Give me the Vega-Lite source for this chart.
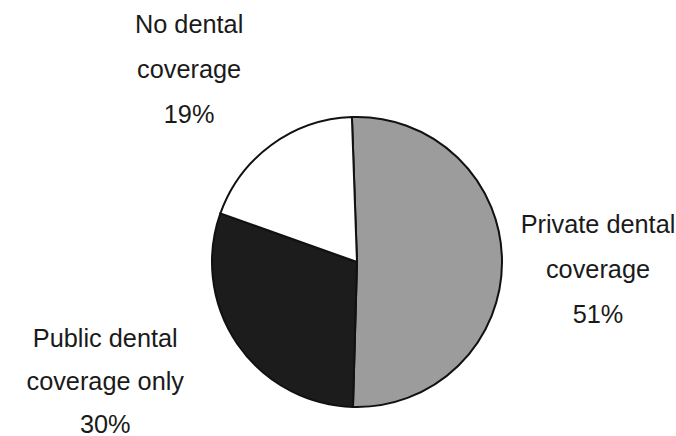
{
  "$schema": "https://vega.github.io/schema/vega-lite/v6.json",
  "width": 640,
  "height": 346,
  "autosize": {"type": "none"},
  "padding": {"left": 37, "top": 89, "right": 0, "bottom": 0},
  "background": "white",
  "config": {"view": {"stroke": null}},
  "data": {
    "values": [
      {"category": "Private dental coverage", "value": 51, "rank": 1, "label": "Private dental\ncoverage\n51%"},
      {"category": "Public dental coverage only", "value": 30, "rank": 2, "label": "Public dental\ncoverage only\n30%"},
      {"category": "No dental coverage", "value": 19, "rank": 3, "label": "No dental\ncoverage\n19%"}
    ]
  },
  "encoding": {
    "theta": {"field": "value", "type": "quantitative", "stack": true, "scale": {"range": [-0.035, 6.248]}},
    "order": {"field": "rank", "type": "quantitative"}
  },
  "layer": [
    {
      "mark": {"type": "arc", "radius": 145, "stroke": "#111111", "strokeWidth": 2},
      "encoding": {
        "color": {
          "field": "category",
          "type": "nominal",
          "scale": {
            "domain": ["Private dental coverage", "Public dental coverage only", "No dental coverage"],
            "range": ["#9c9c9c", "#1c1c1c", "#ffffff"]
          },
          "legend": null
        }
      }
    },
    {
      "mark": {"type": "text", "radius": 230, "dx": 11, "dy": -28, "lineBreak": "\n", "lineHeight": 45, "font": "Liberation Sans", "fontSize": 25.3, "align": "center", "baseline": "alphabetic", "color": "#1a1a1a"},
      "encoding": {"text": {"condition": {"test": "datum.rank == 1", "field": "label"}, "value": ""}}
    },
    {
      "mark": {"type": "text", "radius": 230, "dx": -62, "dy": -45, "lineBreak": "\n", "lineHeight": 43, "font": "Liberation Sans", "fontSize": 25.3, "align": "center", "baseline": "alphabetic", "color": "#1a1a1a"},
      "encoding": {"text": {"condition": {"test": "datum.rank == 2", "field": "label"}, "value": ""}}
    },
    {
      "mark": {"type": "text", "radius": 230, "dx": -32, "dy": -43, "lineBreak": "\n", "lineHeight": 45, "font": "Liberation Sans", "fontSize": 25.3, "align": "center", "baseline": "alphabetic", "color": "#1a1a1a"},
      "encoding": {"text": {"condition": {"test": "datum.rank == 3", "field": "label"}, "value": ""}}
    }
  ]
}
